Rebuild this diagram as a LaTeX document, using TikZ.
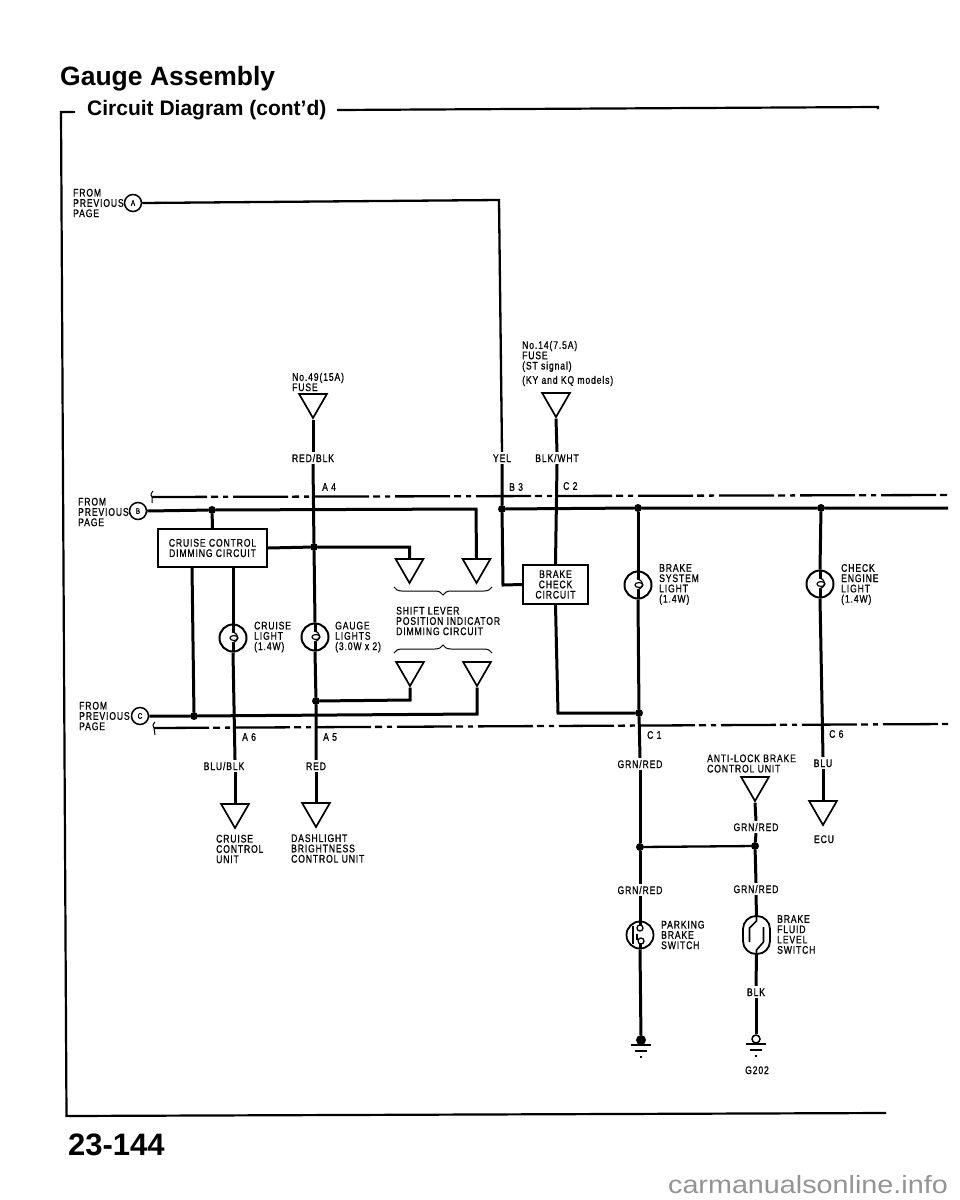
\documentclass[tikz,border=0pt]{standalone}
\usepackage{fontspec}
\usepackage{tikz}
\usetikzlibrary{shapes.geometric}
\usetikzlibrary{decorations.pathreplacing}
\setmainfont{Liberation Sans}
\newfontfamily\labelfont[FakeStretch = 0.78, LetterSpace = 8, FakeBold = 0.9]{Liberation Sans}
\newfontfamily\waterfont[FakeStretch = 1.15]{Liberation Sans}
\tikzset{wire/.style = {line width = 3}}
\tikzset{thinwire/.style = {line width = 2.3}}
\tikzset{harness/.style = {line width = 2.3, dash pattern = on 55 off 4 on 7 off 5 on 5 off 5}}
\tikzset{circ/.style = {fill, circle, inner sep = 0, minimum size = 8}}
\tikzset{txt/.style = {inner sep = 0, anchor = west, align = left, font = \fontsize{11}{10.3}\selectfont\labelfont}}
\tikzset{wirelabel/.style = {inner sep = 2, text height = 8, text depth = 0, font = \fontsize{11}{10.3}\selectfont\labelfont}}
\tikzset{port/.style = {draw, circle, line width = 1.5, inner sep = 0, minimum size = 17, font = \fontsize{8}{8}\selectfont\labelfont}}
\tikzset{tri/.style = {draw, regular polygon, regular polygon sides = 3, shape border rotate = 180, line width = 1.7, inner sep = 0, minimum size = 32}}
\tikzset{cbox/.style = {draw, line width = 2, inner sep = 0, align = center, font = \fontsize{11}{10.3}\selectfont\labelfont}}
\tikzset{bulb/.style = {draw, circle, line width = 2, inner sep = 0, minimum size = 27,
    path picture = {
      \draw [wire] (path picture bounding box.north) -- ++(0, 7);
      \draw [wire] (path picture bounding box.south) -- ++(0, -9);
      \draw [line width = 1.2] (path picture bounding box.center) ++(1, 0) ellipse [x radius = 4, y radius = 2.5];
      \draw [line width = 1.2] (path picture bounding box.center) ++(-1, -6) .. controls (6, -5) and (7, 3) .. (-1, 5);
    }}}
\tikzset{parkswitch/.style = {draw, circle, line width = 1.8, inner sep = 0, minimum size = 27,
    path picture = {
      \draw [wire] (path picture bounding box.north) -- ++(0, 4);
      \draw [wire] (path picture bounding box.south) -- ++(0, -7);
      \draw [line width = 1.3, fill = white] (path picture bounding box.center) ++(0, -7) circle [radius = 3];
      \draw [line width = 1.3, fill = white] (path picture bounding box.center) ++(1, 6) circle [radius = 3];
      \draw [line width = 2] (path picture bounding box.center) ++(-7, -9) -- ++(0, 18);
      \draw [line width = 1.2] (path picture bounding box.center) ++(-3, -1) -- ++(0, 6);
    }}}
\tikzset{fluidswitch/.style = {draw, rectangle, rounded corners = 13, line width = 1.8, inner sep = 0, minimum width = 27, minimum height = 38,
    path picture = {
      \draw [line width = 1.6, sharp corners] (path picture bounding box.north) -- ++(0, 5) -- ++(-7, 7) -- ++(0, 14);
      \draw [line width = 1.6, sharp corners] (path picture bounding box.south) -- ++(0, -4) -- ++(7, -8) -- ++(0, -15);
    }}}
\tikzset{ground/.pic = {
      \draw [line width = 1.7] (-10, 0) -- (10, 0);
      \draw [line width = 1.4] (-6, 6) -- (6, 6);
      \draw [line width = 1.4] (-1, 12) -- (1, 12);
    }}
\tikzset{bracemark/.style = {line width = 1, decorate, decoration = {brace, amplitude = 8}}}

\begin{document}
\begin{tikzpicture}[x = 1pt, y = -1pt]
  \useasboundingbox (0, 0) rectangle (960, 1200);

  \node [inner sep = 0, anchor = base west, font = \fontsize{26.5}{26.5}\selectfont\bfseries] (title) at (60, 85) {Gauge Assembly};
  \node [inner sep = 0, anchor = base west, font = \fontsize{21}{21}\selectfont\bfseries] (subtitle) at (87, 115) {Circuit Diagram (cont'd)};
  \node [inner sep = 0, anchor = base west, font = \fontsize{31}{31}\selectfont\bfseries] (pageno) at (68, 1155) {23-144};
  \node [inner sep = 0, anchor = base east, text = black!42, font = \fontsize{25}{25}\selectfont\waterfont] (watermark) at (948, 1193) {carmanualsonline.info};

  % page frame
  \draw [line width = 2.2] (75, 112) -- (61, 112) -- (66.5, 1116) -- (886, 1113);
  \draw [line width = 2.2] (337, 110) -- (878, 107) -- (878, 109);

  % harness connectors
  \coordinate (hartopl) at (152, 497);
  \coordinate (hartopr) at (948, 495);
  \coordinate (harbotl) at (154, 728);
  \coordinate (harbotr) at (948, 724);
  \draw [harness] (hartopl) -- (hartopr);
  \draw [harness] (harbotl) -- (harbotr);
  \draw [line width = 1] (153, 491) .. controls (150, 494) and (151, 497) .. (hartopl) .. controls (151, 499) and (153, 501) .. (152, 503);
  \draw [line width = 1] (155, 722) .. controls (152, 725) and (153, 727) .. (harbotl) .. controls (153, 730) and (156, 732) .. (155, 735);
  \node [txt] (conna4) at (322, 487) {A 4};
  \node [txt] (conna6) at (242, 737) {A 6};
  \node [txt] (conna5) at (323, 737) {A 5};
  \node [txt] (connb3) at (509, 487) {B 3};
  \node [txt] (connc2) at (563, 486) {C 2};
  \node [txt] (connc1) at (647, 735) {C 1};
  \node [txt] (connc6) at (829, 734) {C 6};

  % incoming pages
  \node [txt] (froma) at (73, 203) {FROM\\PREVIOUS\\PAGE};
  \node [port] (porta) at (133, 203) {A};
  \node [txt] (fromb) at (78, 512) {FROM\\PREVIOUS\\PAGE};
  \node [port] (portb) at (138, 511) {B};
  \node [txt] (fromc) at (79, 716) {FROM\\PREVIOUS\\PAGE};
  \node [port] (portc) at (140, 716) {C};

  % fuses
  \node [txt] (fusetxta) at (292, 382) {No.49(15A)\\FUSE};
  \node [tri] (fusea) at (313, 402) {};
  \node [txt] (fusetxtb) at (522, 363.5) {No.14(7.5A)\\FUSE\\(ST signal)\\[4pt](KY and KQ models)};
  \node [tri] (fuseb) at (556, 401) {};
  \node [wirelabel] (redblk) at (313, 458) {RED/BLK};
  \node [wirelabel] (yel) at (502, 458) {YEL};
  \node [wirelabel] (blkwht) at (557, 458) {BLK/WHT};

  % boxes
  \node [cbox, minimum width = 109, minimum height = 38] (cruisebox) at (212.5, 548) {CRUISE CONTROL\\DIMMING CIRCUIT};
  \node [cbox, minimum width = 65, minimum height = 39] (brakebox) at (555.5, 584.5) {BRAKE\\CHECK\\CIRCUIT};

  % shift lever triangles
  \node [tri] (shifta) at (409.5, 567) {};
  \node [tri] (shiftb) at (476.5, 567) {};
  \node [tri] (shiftc) at (410, 670) {};
  \node [tri] (shiftd) at (477, 670) {};
  \node [txt] (shifttxt) at (396, 621) {SHIFT LEVER\\POSITION INDICATOR\\DIMMING CIRCUIT};
  \coordinate (bracear) at (492, 587);
  \coordinate (braceal) at (394, 587);
  \coordinate (bracebl) at (394, 653);
  \coordinate (bracebr) at (492, 653);
  \draw [bracemark] (bracear) -- (braceal);
  \draw [bracemark] (bracebl) -- (bracebr);

  % lights
  \node [bulb] (cruisebulb) at (233, 638) {};
  \node [txt] (cruisetxt) at (254, 637) {CRUISE\\LIGHT\\(1.4W)};
  \node [bulb] (gaugebulb) at (315, 637) {};
  \node [txt] (gaugetxt) at (335, 637) {GAUGE\\LIGHTS\\(3.0W x 2)};
  \node [bulb] (brakebulb) at (638, 585) {};
  \node [txt] (braketxt) at (659, 584.5) {BRAKE\\SYSTEM\\LIGHT\\(1.4W)};
  \node [bulb] (checkbulb) at (820, 584) {};
  \node [txt] (checktxt) at (841, 584.5) {CHECK\\ENGINE\\LIGHT\\(1.4W)};

  % lower left outputs
  \node [wirelabel] (blublk) at (224, 766) {BLU/BLK};
  \node [wirelabel] (redlab) at (316, 766) {RED};
  \node [tri] (cruiseunit) at (235, 812) {};
  \node [tri] (dashunit) at (316, 811) {};
  \node [txt] (cruiseunittxt) at (216, 849) {CRUISE\\CONTROL\\UNIT};
  \node [txt] (dashunittxt) at (291, 848.5) {DASHLIGHT\\BRIGHTNESS\\CONTROL UNIT};

  % lower right
  \node [wirelabel] (grnreda) at (640, 764) {GRN/RED};
  \node [wirelabel] (grnredb) at (640, 890) {GRN/RED};
  \node [wirelabel] (grnredc) at (756, 827) {GRN/RED};
  \node [wirelabel] (grnredd) at (756, 889) {GRN/RED};
  \node [wirelabel] (blu) at (823, 763) {BLU};
  \node [wirelabel] (blk) at (756, 992) {BLK};
  \node [txt] (abstxt) at (707, 763.5) {ANTI-LOCK BRAKE\\CONTROL UNIT};
  \node [tri] (absunit) at (755, 785) {};
  \node [tri] (ecuunit) at (823, 809) {};
  \node [wirelabel] (ecu) at (824, 839) {ECU};
  \node [parkswitch] (parksw) at (640, 935) {};
  \node [txt] (parktxt) at (661, 935) {PARKING\\BRAKE\\SWITCH};
  \node [fluidswitch] (fluidsw) at (756.5, 935) {};
  \node [txt] (fluidtxt) at (777, 934.5) {BRAKE\\FLUID\\LEVEL\\SWITCH};
  \node [wirelabel] (gnum) at (757, 1070) {G202};

  % junctions
  \node [circ] (jbox) at (212, 510) {};
  \node [circ] (jbus) at (502, 509) {};
  \node [circ] (jgauge) at (314, 547) {};
  \node [circ] (jdash) at (316, 701) {};
  \node [circ] (jcruise) at (194, 716) {};
  \node [circ] (jbrake) at (638, 508) {};
  \node [circ] (jcheck) at (821, 508) {};
  \node [circ] (jcheckout) at (639, 713) {};
  \node [circ] (jpark) at (640, 847) {};
  \node [circ] (jfluid) at (755, 846) {};
  \node [fill, circle, inner sep = 0, minimum size = 10] (gnddot) at (641, 1040) {};
  \node [draw, circle, line width = 1.5, inner sep = 0, minimum size = 8] (gndopen) at (756, 1039) {};
  \pic at (641, 1045) {ground};
  \pic at (756, 1044) {ground};

  % bends
  \coordinate (bendain) at (499, 200);
  \coordinate (bendabot) at (503, 585);
  \coordinate (bendb) at (476, 509);
  \coordinate (benddim) at (409.5, 547);
  \coordinate (bendshc) at (410, 700);
  \coordinate (bendshd) at (477, 714);
  \coordinate (bendcheck) at (558, 713);
  \coordinate (busend) at (948, 508);
  \coordinate (cruiseleft) at (192, 567);
  \coordinate (cruiseright) at (233, 567);

  % wires
  \draw [thinwire] (porta.east) -- (bendain) -- (yel.north);
  \draw [wire] (yel.south) -- (jbus) -- (bendabot) -- (brakebox.west);
  \draw [wire] (jbus) -- (jbrake) -- (jcheck) -- (busend);
  \draw [wire] (portb.east) -- (jbox) -- (bendb) -- (shiftb.north);
  \draw [wire] (jbox) -- (cruisebox.north);
  \draw [wire] (cruisebox.east) -- (jgauge) -- (benddim) -- (shifta.north);
  \draw [wire] (cruiseright) -- (cruisebulb.north);
  \draw [wire] (cruisebulb.south) -- (blublk.north -| cruiseunit.north);
  \draw [wire] (blublk.south -| cruiseunit.north) -- (cruiseunit.north);
  \draw [wire] (cruiseleft) -- (jcruise);
  \draw [wire] (portc.east) -- (jcruise) -- (bendshd) -- (shiftd.corner 1);
  \draw [wire] (shiftc.corner 1) -- (bendshc) -- (jdash);
  \draw [wire] (fusea.corner 1) -- (redblk.north);
  \draw [wire] (redblk.south) -- (jgauge) -- (gaugebulb.north);
  \draw [wire] (gaugebulb.south) -- (jdash) -- (redlab.north);
  \draw [wire] (redlab.south) -- (dashunit.north);
  \draw [wire] (fuseb.corner 1) -- (blkwht.north);
  \draw [wire] (blkwht.south) -- (brakebox.north);
  \draw [wire] (brakebox.south) -- (bendcheck) -- (jcheckout);
  \draw [wire] (jbrake) -- (brakebulb.north);
  \draw [wire] (brakebulb.south) -- (jcheckout) -- (grnreda.north);
  \draw [wire] (grnreda.south) -- (jpark) -- (grnredb.north);
  \draw [wire] (grnredb.south) -- (parksw.north);
  \draw [wire] (parksw.south) -- (gnddot);
  \draw [thinwire] (jpark) -- (jfluid);
  \draw [wire] (jcheck) -- (checkbulb.north);
  \draw [wire] (checkbulb.south) -- (blu.north);
  \draw [wire] (blu.south) -- (ecuunit.north);
  \draw [wire] (absunit.corner 1) -- (grnredc.north);
  \draw [wire] (grnredc.south) -- (jfluid) -- (grnredd.north);
  \draw [wire] (grnredd.south) -- (fluidsw.north);
  \draw [wire] (fluidsw.south) -- (blk.north);
  \draw [wire] (blk.south) -- (gndopen);
\end{tikzpicture}
\end{document}
